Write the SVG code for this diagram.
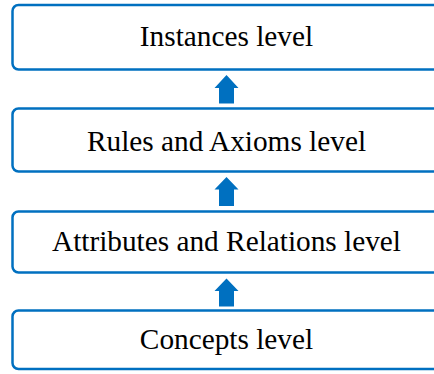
<svg xmlns="http://www.w3.org/2000/svg" width="434" height="374" viewBox="0 0 434 374">
<defs>
<style>
.box{fill:#fff;stroke:#0070C0;stroke-width:2.5}
.lbl{font-family:"Liberation Serif","Times New Roman",serif;font-size:29.3px;fill:#000;text-anchor:middle}
.arr{fill:#0070C0}
</style>
</defs>
<rect width="434" height="374" fill="#fff"/>
<g id="instances">
<rect class="box" x="12.5" y="5" width="430" height="64.5" rx="6"/>
<text class="lbl" x="226.5" y="46">Instances level</text>
</g>
<g id="rules">
<rect class="box" x="12.5" y="108.5" width="430" height="63" rx="6"/>
<text class="lbl" x="226.5" y="151">Rules and Axioms level</text>
</g>
<g id="attributes">
<rect class="box" x="12.5" y="211.5" width="430" height="61" rx="6"/>
<text class="lbl" x="226.5" y="251">Attributes and Relations level</text>
</g>
<g id="concepts">
<rect class="box" x="12.5" y="310.5" width="430" height="58.5" rx="6"/>
<text class="lbl" x="226.5" y="349">Concepts level</text>
</g>
<g id="connectors">
<polygon class="arr" points="226.5,75 238.5,88 234,88 234,103.5 219,103.5 219,88 214.5,88"/>
<polygon class="arr" points="226.5,177 238.5,189.5 234,189.5 234,206 219,206 219,189.5 214.5,189.5"/>
<polygon class="arr" points="226.5,278.5 238.5,291 234,291 234,306.5 219,306.5 219,291 214.5,291"/>
</g>
</svg>
